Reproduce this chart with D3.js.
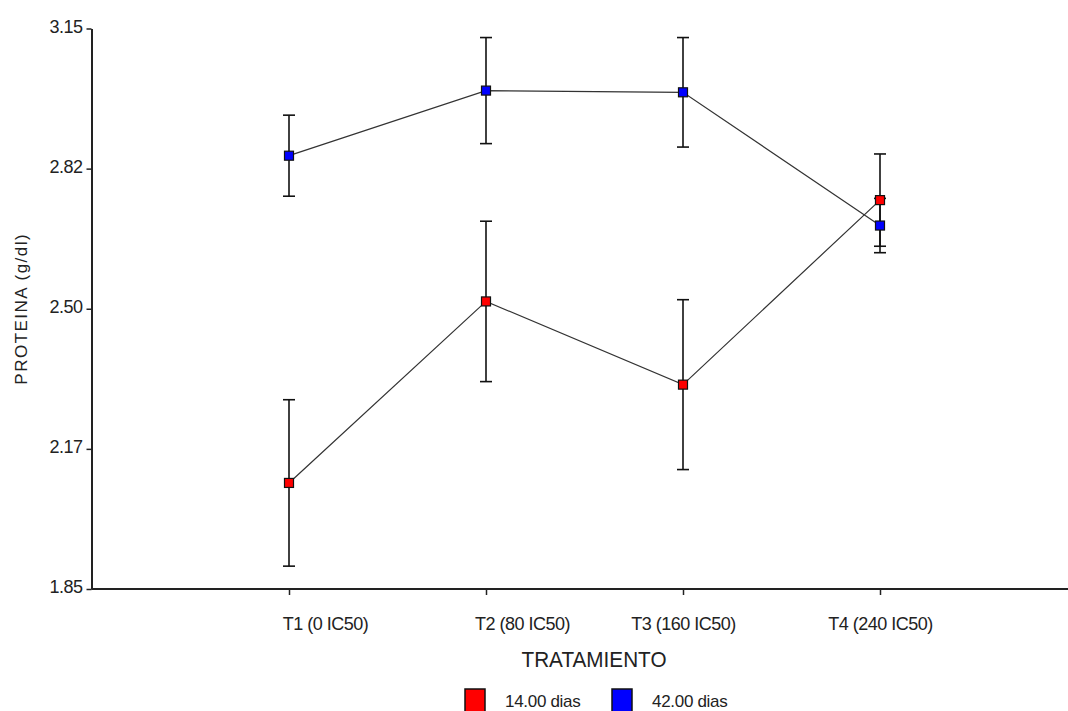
<!DOCTYPE html>
<html>
<head>
<meta charset="utf-8">
<script src="https://cdn.jsdelivr.net/npm/d3@7"></script>
<style>
  body { margin: 0; background: #fff; }
  svg { display: block; font-family: "Liberation Sans", Arial, sans-serif; }
</style>
</head>
<body>
<div id="chart"></div>
<script>
// == Data ====================================================================

const categories = ['T1 (0 IC50)', 'T2 (80 IC50)', 'T3 (160 IC50)', 'T4 (240 IC50)']
const seriesNames = ['14.00 dias', '42.00 dias']
const dias14 = [2.096, 2.517, 2.324, 2.752]
const err14 = [0.193, 0.186, 0.197, 0.107]
const dias42 = [2.855, 3.006, 3.002, 2.693]
const err42 = [0.094, 0.123, 0.127, 0.063]
const yTicks = [1.85, 2.175, 2.5, 2.825, 3.15]
const yTickLabels = ['1.85', '2.17', '2.50', '2.82', '3.15']

// == Layout ==================================================================

const width = 1068
const height = 711
const colors = ['#ff0000', '#0000ff']

const svg = d3.select('#chart').append('svg')
  .attr('width', width)
  .attr('height', height)

const x = d3.scalePoint().domain(categories).range([289, 880])
const y = d3.scaleLinear().domain([1.85, 3.15]).range([589, 28.5])

const axisX0 = 91.5

// y axis
const yAxis = svg.append('g')
  .attr('transform', `translate(${axisX0},0)`)
  .call(d3.axisLeft(y).tickValues(yTicks)
    .tickFormat((d, i) => yTickLabels[i]).tickSize(5).tickSizeOuter(0))
yAxis.select('.domain').attr('stroke', '#222').attr('stroke-width', 2)
yAxis.selectAll('.tick line').attr('stroke', '#222').attr('stroke-width', 1.5)
yAxis.selectAll('.tick text')
  .attr('font-size', 18).attr('fill', '#222').attr('x', -9).attr('dy', '0.2em')
  .attr('letter-spacing', '-0.5px')

// x axis
const xAxis = svg.append('g')
  .attr('transform', `translate(0,${y(1.85)})`)
  .call(d3.axisBottom(x).tickSize(6).tickSizeOuter(0))
xAxis.select('.domain').attr('d', `M${axisX0},0H${width}`)
  .attr('stroke', '#222').attr('stroke-width', 2)
xAxis.selectAll('.tick line').attr('stroke', '#222').attr('stroke-width', 1.5)
xAxis.selectAll('.tick text')
  .attr('font-size', 18).attr('fill', '#222').attr('y', 28)
  .attr('letter-spacing', '-0.5px')
  .attr('dx', (d, i) => i < 2 ? 36 : 0)

// axis titles
svg.append('text')
  .attr('transform', `translate(27,${y(2.5)}) rotate(-90)`)
  .attr('text-anchor', 'middle')
  .attr('font-size', 17).attr('letter-spacing', '1.5px').attr('fill', '#222')
  .text('PROTEINA (g/dl)')

svg.append('text')
  .attr('x', 594).attr('y', 667)
  .attr('text-anchor', 'middle')
  .attr('font-size', 22).attr('fill', '#222')
  .attr('textLength', 145).attr('lengthAdjust', 'spacingAndGlyphs')
  .text('TRATAMIENTO')

// == Series ==================================================================

const series = [
  { name: seriesNames[0], values: dias14, errs: err14, color: colors[0] },
  { name: seriesNames[1], values: dias42, errs: err42, color: colors[1] }
]

const line = d3.line()
  .x((d, i) => x(categories[i]))
  .y(d => y(d))

series.forEach(function (s) {
  svg.append('path')
    .attr('d', line(s.values))
    .attr('fill', 'none')
    .attr('stroke', '#333')
    .attr('stroke-width', 1.2)
})

series.forEach(function (s) {
  const g = svg.append('g')
  // error bars
  s.values.forEach(function (v, i) {
    const cx = x(categories[i])
    const top = y(v + s.errs[i])
    const bot = y(v - s.errs[i])
    g.append('line').attr('x1', cx).attr('x2', cx).attr('y1', top).attr('y2', bot)
      .attr('stroke', '#111').attr('stroke-width', 1.6)
    g.append('line').attr('x1', cx - 6).attr('x2', cx + 6).attr('y1', top).attr('y2', top)
      .attr('stroke', '#111').attr('stroke-width', 1.6)
    g.append('line').attr('x1', cx - 6).attr('x2', cx + 6).attr('y1', bot).attr('y2', bot)
      .attr('stroke', '#111').attr('stroke-width', 1.6)
  })
})

series.forEach(function (s) {
  svg.append('g').selectAll('rect')
    .data(s.values)
    .join('rect')
    .attr('x', (d, i) => x(categories[i]) - 4.5)
    .attr('y', d => y(d) - 4.5)
    .attr('width', 9)
    .attr('height', 9)
    .attr('fill', s.color)
    .attr('stroke', '#111')
    .attr('stroke-width', 1.2)
})

// == Legend ==================================================================

const legend = svg.append('g').attr('transform', 'translate(465,689)')
const legendItems = legend.selectAll('g')
  .data(series)
  .join('g')
  .attr('transform', (d, i) => `translate(${i * 147},0)`)
legendItems.append('rect')
  .attr('width', 20).attr('height', 24)
  .attr('fill', d => d.color)
  .attr('stroke', '#111').attr('stroke-width', 1.5)
legendItems.append('text')
  .attr('x', 40).attr('y', 18)
  .attr('font-size', 17).attr('fill', '#222')
  .attr('letter-spacing', '-0.3px')
  .text(d => d.name)
</script>
</body>
</html>
